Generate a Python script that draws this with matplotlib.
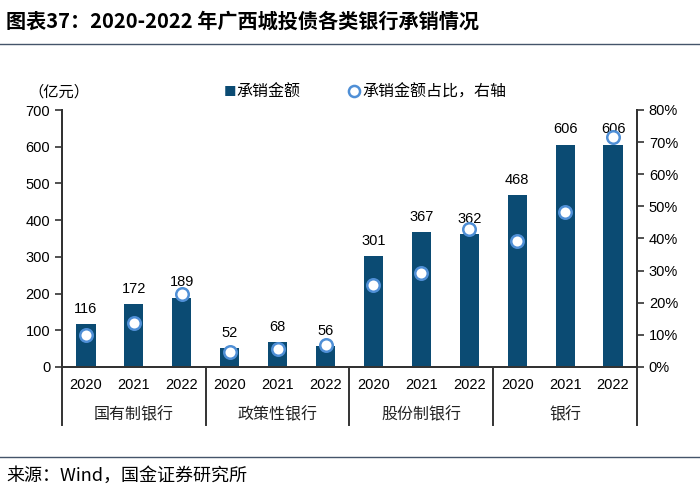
import matplotlib
matplotlib.use("Agg")
import matplotlib.pyplot as plt
import numpy as np

plt.rcParams['font.family'] = ['Liberation Sans', 'Noto Sans CJK SC', 'DejaVu Sans']

# data
groups = ['国有制银行', '政策性银行', '股份制银行', '银行']
years = ['2020', '2021', '2022']
amount = [116, 172, 189, 52, 68, 56, 301, 367, 362, 468, 606, 606]
share = [10.0, 13.8, 22.6, 4.6, 5.6, 6.9, 25.5, 29.3, 43.0, 39.3, 48.2, 71.5]

bar_color = '#0b4b73'
ring_color = '#4f8fd6'
cjk = ['Noto Sans CJK SC', 'DejaVu Sans']

fig = plt.figure(figsize=(7, 4.92), dpi=100)
ax = fig.add_axes([62 / 700, 1 - 367 / 492, 575 / 700, 257 / 492])
ax2 = ax.twinx()

x = np.arange(len(amount))
ax.bar(x, amount, width=0.4, color=bar_color, zorder=2)
for xi, v in zip(x, amount):
    ax.annotate(str(v), (xi, v), xytext=(0, 6), textcoords='offset points',
                ha='center', va='bottom', fontsize=10.5, color='black')

ax2.plot(x, share, linestyle='none', marker='o', markersize=9,
         markerfacecolor='white', markeredgecolor=ring_color, markeredgewidth=1.8, zorder=3)

ax.set_xlim(-0.5, len(amount) - 0.5)
ax.set_ylim(0, 700)
ax.set_yticks(range(0, 701, 100))
ax2.set_ylim(0, 80)
ax2.set_yticks(range(0, 81, 10))
ax2.set_yticklabels([f'{t}%' for t in range(0, 81, 10)])

ax.set_xticks(x)
ax.set_xticklabels(years * len(groups), fontsize=10.5)
ax.tick_params(axis='x', length=0, pad=8)
ax.tick_params(axis='y', direction='out', length=5, width=1.2, labelsize=10.5, color='#333333')
ax2.tick_params(axis='y', direction='out', length=5, width=1.2, labelsize=10.5, color='#333333')

for a in (ax, ax2):
    a.spines['top'].set_visible(False)
for s in ['left', 'right', 'bottom']:
    ax2.spines[s].set_color('#333333')
    ax2.spines[s].set_linewidth(1.4)
    ax.spines[s].set_color('#333333')
    ax.spines[s].set_linewidth(1.4)

# group separators and labels below the axis
tr = ax.get_xaxis_transform()
for b in [-0.5, 2.5, 5.5, 8.5, 11.5]:
    ax.plot([b, b], [0, -0.226], transform=tr, color='#333333', lw=1.4, clip_on=False)
for i, g in enumerate(groups):
    ax.text(i * 3 + 1, -0.185, g, transform=tr, ha='center', va='center',
            fontsize=11.5, family=cjk, color='#222222')

# unit label and legend
fig.text(28 / 700, 1 - 92 / 492, '（亿元）', ha='left', va='center', fontsize=11, family=cjk)
fig.text(224 / 700, 1 - 92 / 492, '■', ha='left', va='center', fontsize=9, color=bar_color, family=cjk)
fig.text(236 / 700, 1 - 92 / 492, '承销金额', ha='left', va='center', fontsize=11.5, family=cjk)
fig.lines.append(plt.Line2D([354 / 700], [1 - 91 / 492], transform=fig.transFigure, marker='o',
                            markersize=8, markerfacecolor='white', markeredgecolor=ring_color,
                            markeredgewidth=1.8, linestyle='none'))
fig.text(362 / 700, 1 - 92 / 492, '承销金额占比，右轴', ha='left', va='center', fontsize=11.5, family=cjk)

# title and footer
fig.text(6 / 700, 1 - 21 / 492, '图表37：2020-2022 年广西城投债各类银行承销情况', ha='left', va='center',
         fontsize=14.5, fontweight='bold', style='italic', family=cjk)
fig.lines.append(plt.Line2D([0, 1], [1 - 44 / 492] * 2, transform=fig.transFigure, color='#44546a', lw=1))
fig.lines.append(plt.Line2D([0, 1], [1 - 457 / 492] * 2, transform=fig.transFigure, color='#44546a', lw=1))
fig.text(6 / 700, 1 - 476 / 492, '来源：Wind，国金证券研究所', ha='left', va='center', fontsize=13, family=cjk)

fig.savefig('out.png', dpi=100)
